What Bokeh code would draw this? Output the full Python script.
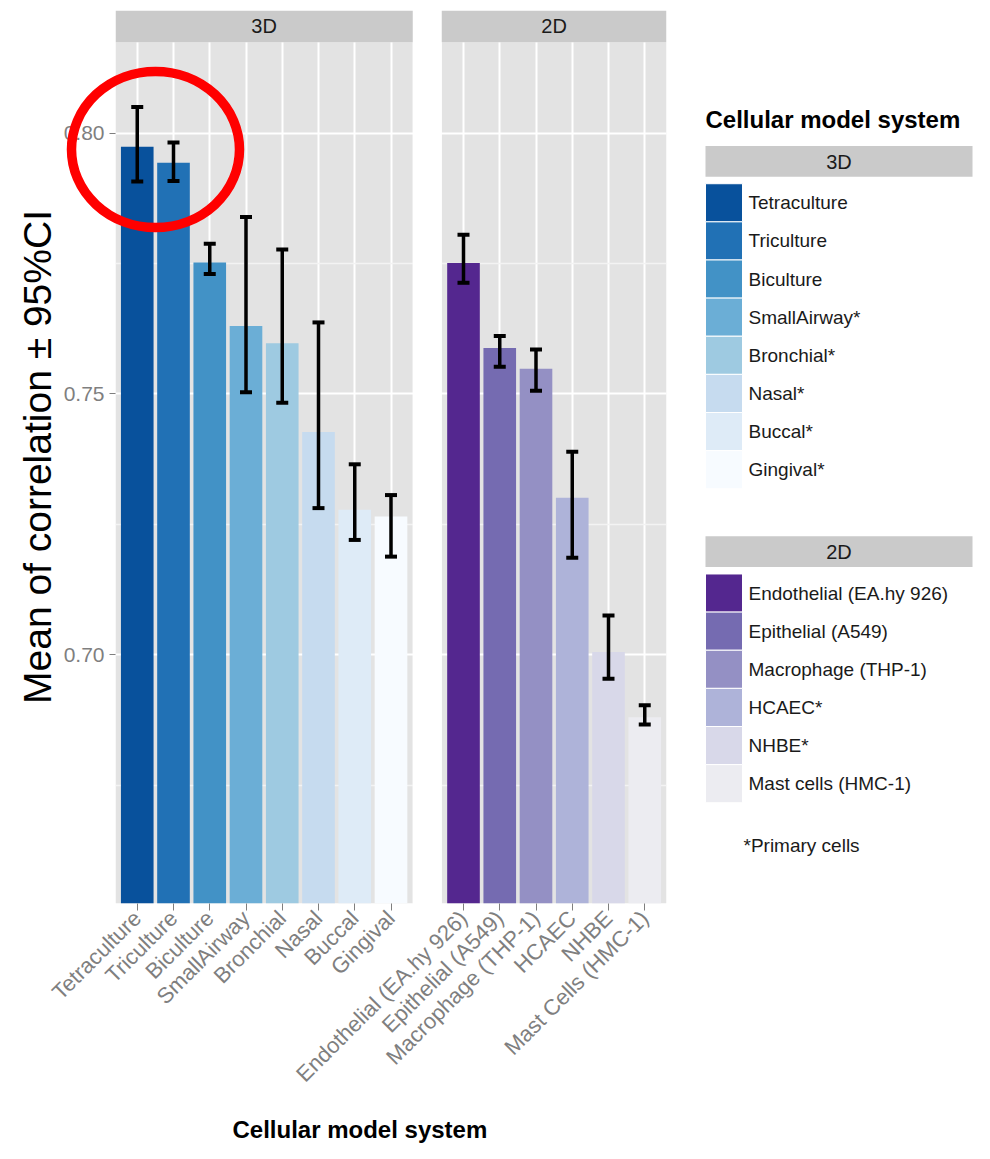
from math import pi
from bokeh.plotting import figure
from bokeh.models import (ColumnDataSource, FactorRange, Range1d, FixedTicker,
                          NumeralTickFormatter, BoxAnnotation, Label, Whisker,
                          TeeHead, Title)
from bokeh.layouts import row
from bokeh.embed import file_html
from bokeh.resources import INLINE
from bokeh.core.properties import value

# ---------------- data ----------------
groups = ["3D", "2D"]

cats_3d = ["Tetraculture", "Triculture", "Biculture", "SmallAirway",
           "Bronchial", "Nasal", "Buccal", "Gingival"]
legend_3d = ["Tetraculture", "Triculture", "Biculture", "SmallAirway*",
             "Bronchial*", "Nasal*", "Buccal*", "Gingival*"]
mean_3d = [0.7974, 0.7943, 0.7752, 0.7630, 0.7597, 0.7427, 0.7278, 0.7265]
lower_3d = [0.7907, 0.7908, 0.7730, 0.7503, 0.7483, 0.7281, 0.7220, 0.7188]
upper_3d = [0.8050, 0.7982, 0.7788, 0.7839, 0.7777, 0.7637, 0.7365, 0.7306]
colors_3d = ["#08519C", "#2171B5", "#4292C6", "#6BAED6",
             "#9ECAE1", "#C6DBEF", "#DEEBF7", "#F7FBFF"]

cats_2d = ["Endothelial (EA.hy 926)", "Epithelial (A549)", "Macrophage (THP-1)",
           "HCAEC", "NHBE", "Mast Cells (HMC-1)"]
legend_2d = ["Endothelial (EA.hy 926)", "Epithelial (A549)", "Macrophage (THP-1)",
             "HCAEC*", "NHBE*", "Mast cells (HMC-1)"]
mean_2d = [0.7751, 0.7588, 0.7548, 0.7301, 0.7005, 0.6880]
lower_2d = [0.7713, 0.7552, 0.7506, 0.7186, 0.6954, 0.6866]
upper_2d = [0.7805, 0.7611, 0.7585, 0.7389, 0.7075, 0.6903]
colors_2d = ["#54278F", "#756BB1", "#9490C4", "#AEB3D9", "#D8D8E9", "#ECECF1"]

y_ticks = [0.70, 0.75, 0.80]
y_minor = [0.675, 0.725, 0.775]

FONT = "Liberation Sans"
PANEL_BG = "#E3E3E3"
STRIP_BG = "#CACACA"
AXIS_GREY = "#7F7F7F"
TXT = "#1A1A1A"

# ---------------- main (faceted) figure ----------------
x = [("3D", c) for c in cats_3d] + [("2D", c) for c in cats_2d]
src = ColumnDataSource(dict(
    x=x,
    mean=mean_3d + mean_2d,
    lower=lower_3d + lower_2d,
    upper=upper_3d + upper_2d,
    color=colors_3d + colors_2d,
))

GP = 1.0      # gap between facets (category units)
PAD = 0.1     # outer padding of each facet
y_bottom, panel_top, y_top = 0.6523, 0.8174, 0.8235

TOP, BOTTOM, LEFT = 10, 250, 115
FRAME_H = 897
H = TOP + FRAME_H + BOTTOM

p = figure(
    x_range=FactorRange(*x, group_padding=GP, factor_padding=0.0,
                        range_padding=PAD, range_padding_units="absolute"),
    y_range=Range1d(y_bottom, y_top),
    width=686, height=H,
    output_backend="svg", toolbar_location=None,
    min_border_left=LEFT, min_border_right=20,
    min_border_top=TOP, min_border_bottom=BOTTOM,
)
p.background_fill_color = "white"
p.border_fill_color = "white"
p.outline_line_color = None

n3, n2 = len(cats_3d), len(cats_2d)
spans = [(-PAD, n3 + PAD), (n3 + GP - PAD, n3 + GP + n2 + PAD)]
for (l, r), g in zip(spans, groups):
    p.add_layout(BoxAnnotation(left=l, right=r, top=panel_top,
                               fill_color=PANEL_BG, fill_alpha=1.0,
                               line_color=None, level="image"))
    p.add_layout(BoxAnnotation(left=l, right=r, bottom=panel_top,
                               fill_color=STRIP_BG, fill_alpha=1.0,
                               line_color=None))
    p.add_layout(Label(x=(l + r) / 2, y=(panel_top + y_top) / 2, text=g,
                       text_align="center", text_baseline="middle",
                       text_font=FONT, text_font_size="20px", text_color=TXT))
# blank gap between the two facets (hides grid lines there)
p.add_layout(BoxAnnotation(left=spans[0][1], right=spans[1][0],
                           fill_color="white", fill_alpha=1.0,
                           line_color=None, level="glyph"))

# grid
ticker = FixedTicker(ticks=y_ticks, minor_ticks=y_minor)
p.yaxis.ticker = ticker
p.ygrid.ticker = ticker
p.ygrid.grid_line_color = "white"
p.ygrid.grid_line_width = 2
p.ygrid.minor_grid_line_color = "#F3F3F3"
p.ygrid.minor_grid_line_width = 1.5
p.xgrid.grid_line_color = "white"
p.xgrid.grid_line_width = 2

# bars and error bars
p.vbar(x="x", top="mean", bottom=0, width=0.9, fill_color="color",
       line_color=None, source=src)
p.add_layout(Whisker(source=src, base="x", upper="upper", lower="lower",
                     line_color="black", line_width=3.5, level="annotation",
                     upper_head=TeeHead(size=12, line_width=4, line_color="black"),
                     lower_head=TeeHead(size=12, line_width=4, line_color="black")))

# y axis
p.yaxis.formatter = NumeralTickFormatter(format="0.00")
p.yaxis.major_label_text_font = FONT
p.yaxis.major_label_text_font_size = "21px"
p.yaxis.major_label_text_color = AXIS_GREY
p.yaxis.major_tick_line_color = AXIS_GREY
p.yaxis.major_tick_out = 6
p.yaxis.major_tick_in = 0
p.yaxis.minor_tick_line_color = None
p.yaxis.axis_line_color = None
p.yaxis.major_label_standoff = 5
p.yaxis.axis_label = "Mean of correlation \u00b1 95%CI"
p.yaxis.axis_label_text_font = FONT
p.yaxis.axis_label_text_font_size = "39px"
p.yaxis.axis_label_text_font_style = "normal"
p.yaxis.axis_label_text_color = "black"
p.yaxis.axis_label_standoff = 2

# x axis
p.xaxis.major_label_orientation = pi / 4
p.xaxis.major_label_text_font = FONT
p.xaxis.major_label_text_font_size = "22px"
p.xaxis.major_label_text_color = AXIS_GREY
p.xaxis.major_tick_line_color = AXIS_GREY
p.xaxis.major_tick_out = 7
p.xaxis.major_tick_in = 0
p.xaxis.axis_line_color = None
p.xaxis.major_label_standoff = 4
p.xaxis.group_text_color = None
p.xaxis.group_text_font_size = "1px"
p.xaxis.separator_line_color = None

# x axis title (spans both facets)
p.add_layout(Title(text="Cellular model system", align="left", offset=117,
                   standoff=30, text_font=FONT, text_font_size="24px",
                   text_font_style="bold", text_color="black"), "below")

# ---------------- legend figure ----------------
LW = 974 - 686
# legend uses page-pixel coordinates over the same vertical frame as the chart
leg = figure(width=LW, height=H, x_range=Range1d(686, 686 + LW),
             y_range=Range1d(TOP + FRAME_H, TOP),
             output_backend="svg", toolbar_location=None,
             x_axis_location=None, y_axis_location=None,
             min_border_left=0, min_border_right=0,
             min_border_top=TOP, min_border_bottom=BOTTOM)
leg.grid.visible = False
leg.outline_line_color = None
leg.background_fill_color = "white"
leg.border_fill_color = "white"

LX0, LX1 = 705, 972
leg.text(x=[LX0], y=[119], text=["Cellular model system"],
         text_font=value(FONT), text_font_size=value("24px"),
         text_font_style="bold", text_baseline="middle", text_color="black")

KEY_W, KEY_H = 37, 38.3
sections = [(groups[0], legend_3d, colors_3d, 146),
            (groups[1], legend_2d, colors_2d, 538)]
for name, labels, cols, strip_top in sections:
    leg.quad(left=[LX0], right=[LX1], top=[strip_top], bottom=[strip_top + 31],
             fill_color=STRIP_BG, line_color=None)
    leg.text(x=[(LX0 + LX1) / 2], y=[strip_top + 16], text=[name],
             text_font=value(FONT), text_font_size=value("20px"),
             text_align="center", text_baseline="middle", text_color=TXT)
    tops = [strip_top + 38 + i * KEY_H for i in range(len(labels))]
    leg.quad(left=LX0, right=LX0 + KEY_W, top=tops, bottom=[v + KEY_H for v in tops],
             fill_color=cols, line_color="white", line_width=1)
    leg.text(x=LX0 + KEY_W + 6, y=[v + KEY_H / 2 for v in tops], text=labels,
             text_font=value(FONT), text_font_size=value("19px"),
             text_baseline="middle", text_color=TXT)

leg.text(x=[743], y=[849], text=["*Primary cells"],
         text_font=value(FONT), text_font_size=value("19px"),
         text_baseline="middle", text_color=TXT)

# ---------------- red highlight ring (overlay, not clipped to the frame) ----------------
CW, CH = 200, 184
ring = figure(width=CW, height=CH, x_range=Range1d(0, CW), y_range=Range1d(CH, 0),
              output_backend="svg", toolbar_location=None,
              x_axis_location=None, y_axis_location=None, min_border=0)
ring.grid.visible = False
ring.outline_line_color = None
ring.background_fill_color = None
ring.border_fill_color = None
ring.ellipse(x=[CW / 2], y=[CH / 2], width=[168], height=[156],
             fill_color=None, line_color="#FF0000", line_width=9.5)
ring.styles = {"position": "absolute", "left": "55px", "top": "57px",
               "z-index": "10", "pointer-events": "none"}

layout = row(p, leg)
open("out.html", "w").write(file_html([layout, ring], INLINE))
